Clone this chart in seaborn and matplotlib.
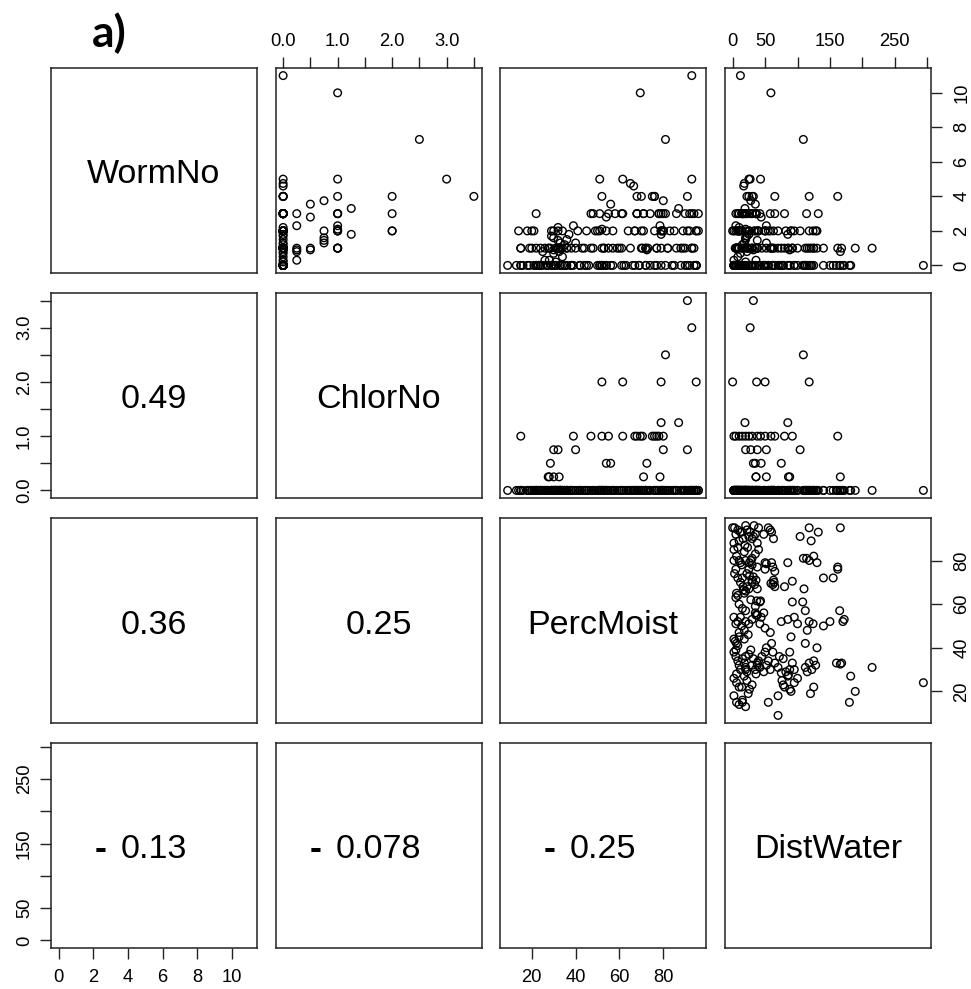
import matplotlib
matplotlib.use("Agg")
import matplotlib.pyplot as plt
import numpy as np
import pandas as pd
import seaborn as sns

# ---------------- data ----------------
worm_no = [
    # rows with ChlorNo > 0
    4, 5, 7.3, 4, 3, 2, 2, 3.3, 1.8, 10, 5, 4, 3, 3, 2.3, 2.1, 2, 2, 1, 1, 1, 1, 3, 2,
    3.75, 2, 1.6, 1.45, 1.3, 3.55, 2.8, 1, 0.9, 3, 2.3, 1, 0.9, 0.8, 0.3,
    # PercMoist 88-96
    11, 0, 0, 1, 2, 3, 0, 1, 3, 2, 0, 1, 2, 0, 3, 1, 0, 2, 1, 0, 3, 0, 3, 1, 0,
    # PercMoist 75-87
    0, 1, 2, 3, 0, 1, 3, 0, 2, 1, 0, 3, 2, 0, 1, 0, 2, 3, 2, 4, 1, 3, 4,
    # PercMoist 65-75
    0, 1, 2, 3, 0, 1, 3, 0, 2, 1, 0, 3, 0, 1, 2, 3, 0, 1, 0, 4, 4, 4.6, 4.75,
    # PercMoist 55-65
    0, 1, 3, 2, 0, 1, 3, 0, 2, 1, 0, 0, 1,
    # PercMoist 45-55
    0, 1, 2, 3, 0, 1, 3, 0, 2, 1, 0, 3, 0, 1, 2, 0, 1, 2, 0, 0, 0, 0, 5,
    # PercMoist 38-45
    0, 1, 0, 2, 0, 1, 0, 1, 2, 0, 1,
    # PercMoist 28-40
    0, 1, 0.5, 2.2, 0.7, 1.2, 1.3, 0.2, 1.7, 1.8, 0, 1, 0, 0, 1, 2, 0, 1, 0, 0, 1, 0, 2, 1.5, 1,
    0, 1, 0, 2, 0, 1, 0, 0, 0, 1, 0, 2, 0, 1, 0, 1, 1,
    # PercMoist 20-28
    0.3, 1, 0, 3, 0, 0.8, 2, 0, 0, 1, 0, 2, 0, 1, 0, 0, 0, 0, 0,
    # PercMoist 9-20
    0, 1, 2, 0, 0, 1, 0, 2, 0, 0, 1, 0,
]
chlor_no = [
    3.5, 3, 2.5, 2, 2, 2, 2, 1.25, 1.25, 1, 1, 1, 1, 1, 1, 1, 1, 1, 1, 1, 1, 1, 1, 1,
    0.75, 0.75, 0.75, 0.75, 0.75, 0.5, 0.5, 0.5, 0.5, 0.25, 0.25, 0.25, 0.25, 0.25, 0.25,
    0, 0, 0, 0, 0, 0, 0, 0, 0, 0, 0, 0, 0, 0, 0, 0, 0, 0, 0, 0, 0, 0, 0, 0, 0,
    0, 0, 0, 0, 0, 0, 0, 0, 0, 0, 0, 0, 0, 0, 0, 0, 0, 0, 0, 0, 0, 0, 0,
    0, 0, 0, 0, 0, 0, 0, 0, 0, 0, 0, 0, 0, 0, 0, 0, 0, 0, 0, 0, 0, 0, 0,
    0, 0, 0, 0, 0, 0, 0, 0, 0, 0, 0, 0, 0,
    0, 0, 0, 0, 0, 0, 0, 0, 0, 0, 0, 0, 0, 0, 0, 0, 0, 0, 0, 0, 0, 0, 0,
    0, 0, 0, 0, 0, 0, 0, 0, 0, 0, 0,
    0, 0, 0, 0, 0, 0, 0, 0, 0, 0, 0, 0, 0, 0, 0, 0, 0, 0, 0, 0, 0, 0, 0, 0, 0,
    0, 0, 0, 0, 0, 0, 0, 0, 0, 0, 0, 0, 0, 0, 0, 0, 0,
    0, 0, 0, 0, 0, 0, 0, 0, 0, 0, 0, 0, 0, 0, 0, 0, 0, 0, 0,
    0, 0, 0, 0, 0, 0, 0, 0, 0, 0, 0, 0,
]
perc_moist = [
    91, 93, 81, 52, 61.5, 79, 95, 87, 79, 69.5, 61.5, 75, 47, 78, 39, 52, 67, 80, 15, 55, 70.5, 77, 68, 76,
    80, 91, 30, 32, 40, 56, 54, 28.5, 72.5, 71, 78.5, 27.5, 30, 32.5, 28,
    93, 95, 94, 93, 92, 96, 91, 90, 92, 89, 95, 94, 96, 88, 90, 88, 92, 95, 93, 90, 94, 95, 93, 89, 95,
    85, 82, 80, 78, 84, 86, 79, 81, 83, 77, 76, 80, 85, 79, 79, 77, 80, 81, 79, 76, 82, 86, 76,
    74, 72, 70, 68, 66, 73, 71, 69, 67, 65, 72, 74, 69, 70, 71, 68, 67, 72, 72, 68, 70, 66.5, 65,
    63, 60, 58, 57, 62, 59, 61, 56, 64, 61, 61, 57, 57,
    54, 52, 50, 48, 46, 53, 55, 51, 49, 47, 54, 51, 52, 53, 54, 51, 48, 51, 50, 52, 52, 53, 51,
    44, 43, 42, 41, 45, 44, 42, 38, 45, 42, 40,
    38, 36, 34, 32, 30, 35, 33, 31, 29, 37, 39, 32, 35, 30, 33, 34, 31, 36, 29, 38, 32, 34, 30, 36, 28,
    33, 31, 35, 29, 38, 33, 30, 36, 31, 33, 30, 32, 29, 34, 33, 33, 31,
    26, 24, 22, 22, 27, 25, 21, 23, 25, 22, 27, 20, 24, 26, 21, 23, 22, 27, 24,
    18, 15, 14, 16, 13, 19, 15, 18, 19, 15, 20, 9,
]
dist_water = [
    32, 27, 109, 118, 37, 50, 0, 19, 85, 59, 43, 65, 10, 30, 5, 20, 25, 2, 15, 38, 92, 162, 80, 50,
    28, 104, 20, 38, 52, 35, 44, 75, 32, 36, 52, 86, 88, 166, 36,
    12, 3, 8, 14, 5, 20, 25, 30, 35, 10, 40, 22, 33, 2, 16, 38, 48, 55, 60, 63, 58, 118, 132, 121, 166,
    2, 6, 10, 14, 18, 23, 26, 30, 35, 38, 5, 20, 40, 12, 60, 62, 118, 114, 130, 162, 125, 8, 25,
    3, 8, 12, 16, 20, 26, 30, 34, 38, 6, 15, 22, 62, 64, 63, 65, 110, 140, 155, 22, 30, 17, 18,
    5, 10, 15, 20, 28, 35, 42, 48, 8, 92, 108, 165, 112,
    2, 8, 14, 18, 24, 30, 36, 42, 50, 58, 12, 5, 75, 85, 95, 100, 115, 124, 140, 150, 170, 172, 25,
    2, 4, 6, 8, 10, 18, 60, 62, 90, 112, 130,
    2, 5, 8, 10, 12, 15, 18, 20, 22, 25, 28, 30, 32, 35, 38, 40, 42, 45, 48, 50, 52, 55, 58, 20, 6,
    65, 70, 78, 82, 88, 92, 95, 72, 112, 118, 122, 128, 115, 125, 160, 168, 215,
    2, 6, 10, 14, 18, 22, 26, 30, 76, 80, 85, 90, 95, 100, 88, 78, 125, 182, 294,
    2, 6, 10, 15, 20, 24, 55, 70, 120, 180, 189, 70,
]

variables = ["WormNo", "ChlorNo", "PercMoist", "DistWater"]
# correlation text in the lower panels, row by row
corr_text = ["0.49", "0.36", "0.25", "- 0.13", "- 0.078", "- 0.25"]

tick_values = {
    "WormNo": [0, 2, 4, 6, 8, 10],
    "ChlorNo": [0, 0.5, 1, 1.5, 2, 2.5, 3, 3.5],
    "PercMoist": [20, 40, 60, 80],
    "DistWater": [0, 50, 100, 150, 200, 250, 300],
}
tick_labels = {
    "WormNo": ["0", "2", "4", "6", "8", "10"],
    "ChlorNo": ["0.0", "", "1.0", "", "2.0", "", "3.0", ""],
    "PercMoist": ["20", "40", "60", "80"],
    "DistWater": ["0", "50", "", "150", "", "250", ""],
}

assert len(worm_no) == len(chlor_no) == len(perc_moist) == len(dist_water)

df = pd.DataFrame({"WormNo": worm_no, "ChlorNo": chlor_no,
                   "PercMoist": perc_moist, "DistWater": dist_water})

# ---------------- plotting ----------------
sns.set_theme(style="white")
plt.rcParams["font.family"] = ["Liberation Sans", "DejaVu Sans"]

g = sns.PairGrid(df, vars=variables, height=2.4, aspect=1, despine=False)
g.map_upper(sns.scatterplot, marker="o", s=30, facecolors="none",
            edgecolor="black", linewidth=1.0)

fig = g.figure
W, H = 971, 989
fig.set_size_inches(W / 100, H / 100)
fig.set_dpi(100)

col_left = [51, 275.5, 500, 725]
row_top = [68, 293, 518, 743]
pw, ph = 206, 205

lims = {}
for v in variables:
    lo, hi = df[v].min(), df[v].max()
    pad = 0.04 * (hi - lo)
    lims[v] = (lo - pad, hi + pad)

TICK_SIZE = 13.2
n = len(variables)
for i in range(n):
    for j in range(n):
        ax = g.axes[i, j]
        ax.set_position([col_left[j] / W, 1 - (row_top[i] + ph) / H, pw / W, ph / H])
        ax.set_xlabel("")
        ax.set_ylabel("")
        ax.set_facecolor("white")
        for sp in ax.spines.values():
            sp.set_visible(True)
            sp.set_linewidth(1.1)
            sp.set_color("#222222")
        ax.tick_params(axis="both", which="both", bottom=False, top=False, left=False,
                       right=False, labelbottom=False, labeltop=False, labelleft=False,
                       labelright=False, length=8, width=1.0, color="#222222",
                       labelsize=TICK_SIZE, labelcolor="black")

for j, v in enumerate(variables):
    g.axes[0, j].set_xlim(*lims[v])
    g.axes[0, j].set_xticks(tick_values[v])
    g.axes[0, j].set_xticklabels(tick_labels[v])
for i, v in enumerate(variables):
    g.axes[i, 0].set_ylim(*lims[v])
    g.axes[i, 0].set_yticks(tick_values[v])
    g.axes[i, 0].set_yticklabels(tick_labels[v])

# R-style axes placement
for j in range(n):
    if j % 2 == 0:
        g.axes[n - 1, j].tick_params(axis="x", bottom=True, labelbottom=True, pad=7,
                                     labelsize=TICK_SIZE)
    else:
        g.axes[0, j].tick_params(axis="x", top=True, labeltop=True, pad=5,
                                 labelsize=TICK_SIZE)
for i in range(n):
    if i % 2 == 0:
        ax = g.axes[i, n - 1]
        ax.tick_params(axis="y", right=True, labelright=True, pad=8, labelrotation=90,
                       labelsize=TICK_SIZE)
    else:
        ax = g.axes[i, 0]
        ax.tick_params(axis="y", left=True, labelleft=True, pad=5, labelrotation=90,
                       labelsize=TICK_SIZE)
    for lab in ax.get_yticklabels():
        lab.set_va("center")

# diagonal labels
base_off = 13 / ph
for i, v in enumerate(variables):
    ax = g.axes[i, i]
    ax.text(0.5, 0.5 - base_off, v, transform=ax.transAxes, ha="center",
            va="baseline", fontsize=24.5, color="black")

# lower panels: correlation values
lower_cells = [(i, j) for i in range(n) for j in range(i)]
number_texts = []
for (i, j), txt in zip(lower_cells, corr_text):
    ax = g.axes[i, j]
    neg = txt.startswith("-")
    num = txt.lstrip("- ").strip()
    t = ax.text(0.5, 0.5 - base_off, num, transform=ax.transAxes, ha="center",
                va="baseline", fontsize=24.5, color="black")
    number_texts.append((ax, t, neg))

fig.text(92 / W, 1 - 47 / H, "a)", ha="left", va="baseline", fontsize=32,
         fontweight="bold", family=["Lato", "DejaVu Sans"], color="black")

fig.canvas.draw()
renderer = fig.canvas.get_renderer()
for ax, t, neg in number_texts:
    if not neg:
        continue
    bb = t.get_window_extent(renderer)
    x_disp = bb.x0 - 14
    x_ax, _ = ax.transAxes.inverted().transform((x_disp, bb.y0))
    ax.text(x_ax, 0.5 - base_off, "-", transform=ax.transAxes, ha="right",
            va="baseline", fontsize=26, fontweight="bold", color="black")

fig.savefig("out.png", dpi=100, facecolor="white")
